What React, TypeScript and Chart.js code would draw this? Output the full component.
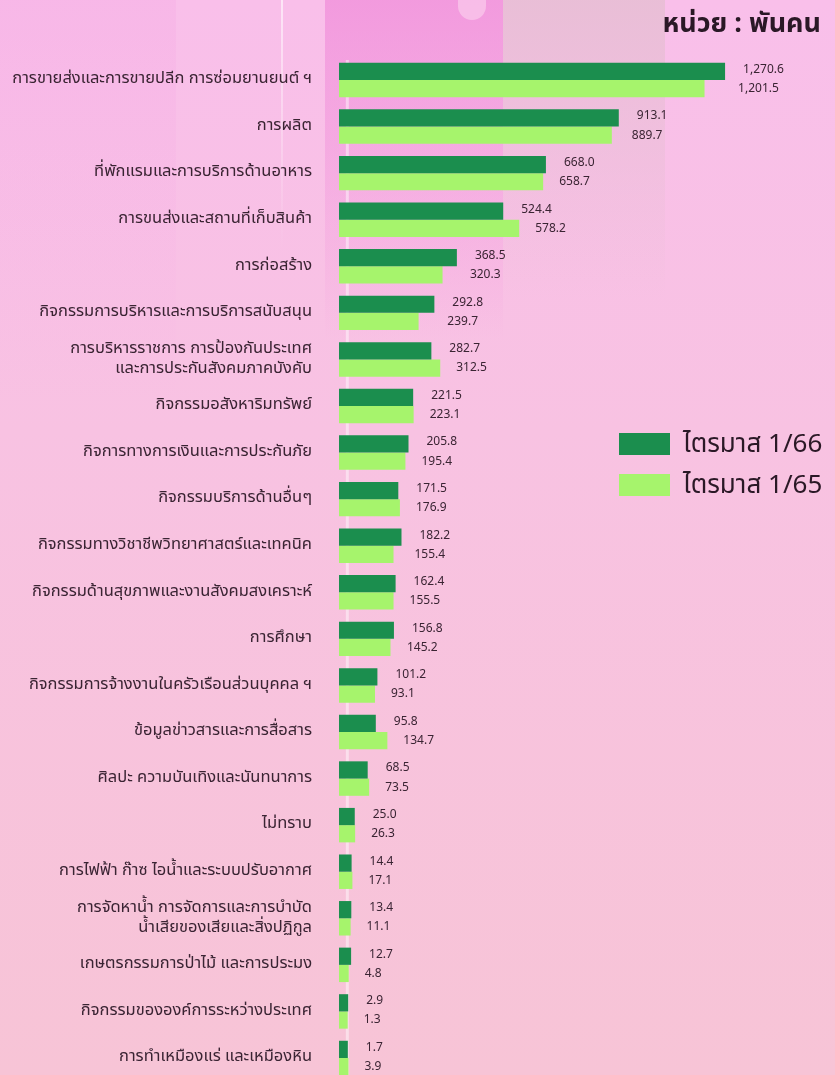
import React, { useEffect, useRef } from "react";
import { Chart, registerables } from "chart.js";

Chart.register(...registerables);

const categories: (string | string[])[] = [
  "การขายส่งและการขายปลีก การซ่อมยานยนต์ ฯ",
  "การผลิต",
  "ที่พักแรมและการบริการด้านอาหาร",
  "การขนส่งและสถานที่เก็บสินค้า",
  "การก่อสร้าง",
  "กิจกรรมการบริหารและการบริการสนับสนุน",
  ["การบริหารราชการ การป้องกันประเทศ", "และการประกันสังคมภาคบังคับ"],
  "กิจกรรมอสังหาริมทรัพย์",
  "กิจการทางการเงินและการประกันภัย",
  "กิจกรรมบริการด้านอื่นๆ",
  "กิจกรรมทางวิชาชีพวิทยาศาสตร์และเทคนิค",
  "กิจกรรมด้านสุขภาพและงานสังคมสงเคราะห์",
  "การศึกษา",
  "กิจกรรมการจ้างงานในครัวเรือนส่วนบุคคล ฯ",
  "ข้อมูลข่าวสารและการสื่อสาร",
  "ศิลปะ ความบันเทิงและนันทนาการ",
  "ไม่ทราบ",
  "การไฟฟ้า ก๊าซ ไอน้ำและระบบปรับอากาศ",
  ["การจัดหาน้ำ การจัดการและการบำบัด", "น้ำเสียของเสียและสิ่งปฏิกูล"],
  "เกษตรกรรมการป่าไม้ และการประมง",
  "กิจกรรมขององค์การระหว่างประเทศ",
  "การทำเหมืองแร่ และเหมืองหิน",
];

const q1_66 = [
  1270.6, 913.1, 668.0, 524.4, 368.5, 292.8, 282.7, 221.5, 205.8, 171.5, 182.2,
  162.4, 156.8, 101.2, 95.8, 68.5, 25.0, 14.4, 13.4, 12.7, 2.9, 1.7,
];

const q1_65 = [
  1201.5, 889.7, 658.7, 578.2, 320.3, 239.7, 312.5, 223.1, 195.4, 176.9, 155.4,
  155.5, 145.2, 93.1, 134.7, 73.5, 26.3, 17.1, 11.1, 4.8, 1.3, 3.9,
];

const seriesNames = ["ไตรมาส 1/66", "ไตรมาส 1/65"];
const unitTitle = "หน่วย : พันคน";

const DARK = "#1b8e4e";
const LIGHT = "#a6f46c";
const TEXT = "#3a2433";
const FONT = '"Noto Sans Thai", "Noto Sans", Lato, sans-serif';

const fmt = (v: number) =>
  v.toLocaleString("en-US", { minimumFractionDigits: 1, maximumFractionDigits: 1 });

const zeroLine = {
  id: "zeroLine",
  beforeDatasetsDraw(chart: any) {
    const ctx = chart.ctx;
    const x = chart.scales.x.getPixelForValue(0);
    ctx.save();
    ctx.strokeStyle = "rgba(255,255,255,0.45)";
    ctx.lineWidth = 3;
    ctx.beginPath();
    ctx.moveTo(x, chart.chartArea.top - 20);
    ctx.lineTo(x, chart.chartArea.bottom + 20);
    ctx.stroke();
    ctx.restore();
  },
};

const valueLabels = {
  id: "valueLabels",
  afterDatasetsDraw(chart: any) {
    const ctx = chart.ctx;
    const m0 = chart.getDatasetMeta(0);
    const m1 = chart.getDatasetMeta(1);
    ctx.save();
    ctx.font = `12px ${FONT}`;
    ctx.fillStyle = TEXT;
    ctx.textAlign = "left";
    ctx.textBaseline = "middle";
    m0.data.forEach((bar: any, i: number) => {
      const b1 = m1.data[i];
      const darkX = bar.x + 18;
      const lightX = Math.max(b1.x + 16, darkX - 5);
      ctx.fillText(fmt(q1_66[i]), darkX, bar.y - 1);
      ctx.fillText(fmt(q1_65[i]), lightX, b1.y + 1);
    });
    ctx.restore();
  },
};

export default function App() {
  const ref = useRef<HTMLCanvasElement>(null);

  useEffect(() => {
    if (!ref.current) return;
    const chart = new Chart(ref.current, {
      type: "bar",
      data: {
        labels: categories,
        datasets: [
          {
            label: seriesNames[0],
            data: q1_66,
            backgroundColor: DARK,
            base: -28,
            categoryPercentage: 0.74,
            barPercentage: 1,
            clip: false as any,
          },
          {
            label: seriesNames[1],
            data: q1_65,
            backgroundColor: LIGHT,
            base: -28,
            categoryPercentage: 0.74,
            barPercentage: 1,
            clip: false as any,
          },
        ],
      },
      options: {
        indexAxis: "y",
        responsive: false,
        animation: false,
        devicePixelRatio: 1,
        layout: { padding: { top: 80, bottom: 17, left: 0, right: 12 } },
        plugins: { legend: { display: false }, tooltip: { enabled: false } },
        scales: {
          x: { display: false, min: -28, max: 1600 },
          y: {
            offset: false,
            grid: { display: false, drawTicks: false },
            border: { display: false },
            ticks: {
              autoSkip: false,
              color: TEXT,
              padding: 27,
              font: { family: FONT, size: 16.5 },
            },
            afterFit: (s: any) => {
              s.width = 339;
              s.paddingTop = 0;
              s.paddingBottom = 0;
            },
          },
        },
      },
      plugins: [zeroLine, valueLabels],
    });
    return () => chart.destroy();
  }, []);

  return (
    <div
      style={{
        position: "fixed",
        left: 0,
        top: 0,
        width: 835,
        height: 1075,
        overflow: "hidden",
        background: "linear-gradient(to bottom, #f9bfea 0%, #f8c2e2 40%, #f7c4d6 100%)",
        fontFamily: FONT,
      }}
    >
      <div
        style={{
          position: "absolute",
          left: 0,
          top: 0,
          width: 176,
          height: 400,
          background: "linear-gradient(to bottom, rgba(245,170,228,0.35), rgba(245,170,228,0))",
        }}
      />
      <div
        style={{
          position: "absolute",
          left: 281,
          top: 0,
          width: 2,
          height: 250,
          background: "linear-gradient(to bottom, rgba(255,255,255,0.6), rgba(255,255,255,0))",
        }}
      />
      <div
        style={{
          position: "absolute",
          left: 325,
          top: 0,
          width: 178,
          height: 340,
          background: "linear-gradient(to bottom, rgba(238,130,214,0.6), rgba(238,130,214,0.25) 60%, rgba(238,130,214,0))",
        }}
      />
      <div
        style={{
          position: "absolute",
          left: 503,
          top: 0,
          width: 162,
          height: 300,
          background: "linear-gradient(to bottom, rgba(228,190,208,0.75), rgba(228,190,208,0.3) 60%, rgba(228,190,208,0))",
        }}
      />
      <div
        style={{
          position: "absolute",
          left: 458,
          top: 0,
          width: 28,
          height: 20,
          borderRadius: "0 0 14px 14px",
          background: "rgba(255,230,245,0.45)",
        }}
      />
      <canvas
        ref={ref}
        width={835}
        height={1075}
        style={{ position: "absolute", left: 0, top: 0 }}
      />
      <div
        style={{
          position: "absolute",
          right: 14,
          top: 3,
          fontSize: 27,
          fontWeight: 700,
          color: "#2a1826",
          whiteSpace: "nowrap",
        }}
      >
        {unitTitle}
      </div>
      {seriesNames.map((name, i) => (
        <div
          key={name}
          style={{
            position: "absolute",
            left: 619,
            top: i === 0 ? 430 : 471,
            display: "flex",
            alignItems: "center",
            height: 28,
          }}
        >
          <div
            style={{
              width: 51,
              height: 22,
              background: i === 0 ? DARK : LIGHT,
              marginRight: 13,
            }}
          />
          <span style={{ fontSize: 26, color: "#2a1826", whiteSpace: "nowrap" }}>{name}</span>
        </div>
      ))}
    </div>
  );
}
